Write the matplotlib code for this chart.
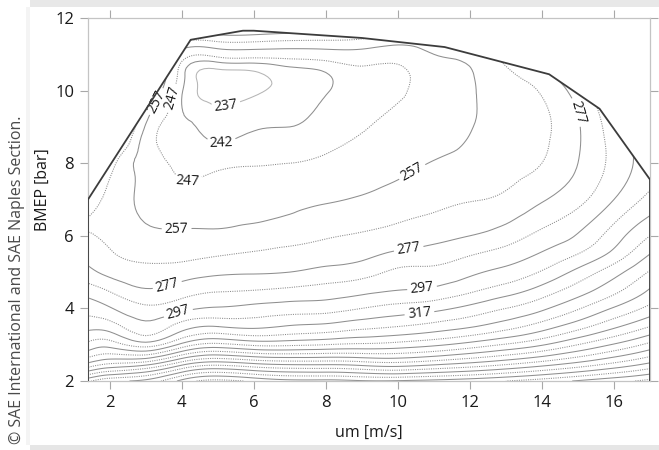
import numpy as np
import matplotlib
matplotlib.use("Agg")
import matplotlib.pyplot as plt
import matplotlib.tri as mtri
from matplotlib.patches import Polygon, Rectangle

plt.rcParams['font.family'] = ['Open Sans', 'DejaVu Sans']

# ---------------- data ----------------
speed = [1.4, 2, 3, 4, 5, 6, 7, 8, 9, 10, 11, 12, 13, 14, 15, 16, 17]          # um [m/s]
bmep = [2, 2.5, 3, 3.5, 4, 4.5, 5, 5.5, 6, 7, 8, 9, 10, 10.5, 11, 11.5, 12]      # BMEP [bar]

bsfc_u1_4 = [405, 357, 330, 314, 303, 292, 280, 273, 267.5, 272, 295, 320, 340, 350, 360, 370, 380]
bsfc_u2 = [415, 365, 333, 312, 298, 286, 274, 268, 265, 264, 272, 300, 320, 330, 340, 350, 360]
bsfc_u3 = [420, 370, 322, 300, 289, 278, 270, 264, 259.5, 254, 252.5, 256, 275, 285, 295, 305, 315]
bsfc_u4 = [440, 390, 340, 312, 294, 282, 272, 264, 259, 249.5, 245, 243, 242.5, 244, 252, 275, 300]
bsfc_u5 = [450, 400, 350, 317, 298, 286, 275, 266, 259, 251, 245.5, 240, 235, 235.5, 250, 275, 300]
bsfc_u6 = [445, 395, 345, 315, 300, 287, 276, 268, 261, 252, 246.5, 241.5, 236, 236.5, 251, 275, 300]
bsfc_u7 = [440, 392, 345, 318, 302, 289, 277, 270, 263, 254, 247, 242, 239, 240, 251, 273, 298]
bsfc_u8 = [440, 392, 347, 320, 303, 291, 280, 272, 266, 256, 248.5, 244, 241.5, 242, 252, 272, 295]
bsfc_u9 = [438, 390, 349, 324, 307, 294, 283, 274, 268, 258, 251, 246.5, 245, 245.5, 253, 270, 290]
bsfc_u10 = [438, 388, 351, 327, 311, 297, 289, 279, 271, 261, 254, 249, 246, 245.5, 251, 265, 285]
bsfc_u11 = [440, 392, 355, 331, 314, 299, 290, 281, 274, 264, 257.5, 252, 251, 252, 257, 265, 280]
bsfc_u12 = [443, 397, 361, 336, 320, 305, 295, 286, 277, 266.5, 260, 256.5, 256, 256.5, 260, 270, 285]
bsfc_u13 = [447, 403, 368, 343, 327, 312, 300, 291, 282, 269, 263, 261, 262, 265, 272, 282, 294]
bsfc_u14 = [452, 410, 376, 352, 335, 321, 308, 298, 290, 276, 267, 265, 268, 275, 287, 298, 310]
bsfc_u15 = [458, 418, 387, 363, 346, 332, 320, 307, 298, 284, 277, 276, 282, 290, 300, 310, 320]
bsfc_u16 = [464, 427, 398, 375, 358, 344, 333, 320, 312, 297, 290, 292, 300, 308, 315, 322, 330]
bsfc_u17 = [470, 437, 410, 387, 370, 358, 348, 337, 327, 310, 303, 305, 315, 322, 330, 337, 345]

# full-load / operating boundary
boundary_speed = [1.4, 1.4, 4.25, 5.7, 6.0, 9.0, 11.3, 14.2, 15.6, 17.0, 17.0]
boundary_bmep = [2.0, 7.0, 11.4, 11.65, 11.65, 11.45, 11.2, 10.45, 9.5, 7.55, 2.0]

contour_levels = [237, 242, 247] + list(range(257, 500, 10))
label_levels = [237, 242, 247, 257, 277, 297, 317]

x_ticks = [2, 4, 6, 8, 10, 12, 14, 16]
y_ticks = [2, 4, 6, 8, 10, 12]

# ---------------- figure ----------------
W, H = 659, 450
fig = plt.figure(figsize=(W / 100, H / 100), dpi=100)
fig.patch.set_facecolor('white')

# page-like panel shadows
fig.add_artist(Rectangle((30 / W, 1 - 7 / H), 1, 7 / H, transform=fig.transFigure,
                         facecolor='#e8e8e8', edgecolor='none', zorder=0))
fig.add_artist(Rectangle((30 / W, 0), 1, 5 / H, transform=fig.transFigure,
                         facecolor='#e6e6e6', edgecolor='none', zorder=0))
fig.add_artist(Rectangle((26 / W, 5 / H), 4 / W, 1 - 12 / H, transform=fig.transFigure,
                         facecolor='#f4f4f4', edgecolor='none', zorder=0))

ax = fig.add_axes([88 / W, 1 - 381 / H, (650 - 88) / W, (381 - 18) / H])

bsfc = np.column_stack([bsfc_u1_4, bsfc_u2, bsfc_u3, bsfc_u4, bsfc_u5, bsfc_u6, bsfc_u7,
                        bsfc_u8, bsfc_u9, bsfc_u10, bsfc_u11, bsfc_u12, bsfc_u13, bsfc_u14,
                        bsfc_u15, bsfc_u16, bsfc_u17])
U, B = np.meshgrid(speed, bmep)
tri = mtri.Triangulation(U.ravel(), B.ravel())
refiner = mtri.UniformTriRefiner(tri)
tri_f, z_f = refiner.refine_field(bsfc.ravel(), subdiv=3)


def style_of(lv):
    if lv == 247 or (lv >= 257 and ((lv - 257) // 10) % 2 == 1):
        return (0, (1.0, 1.2)), '#8a8a8a'
    return 'solid', ('#b5b5b5' if lv == 237 else '#8f8f8f')


clip = Polygon(np.column_stack([boundary_speed, boundary_bmep]), closed=True,
               transform=ax.transData, facecolor='none', edgecolor='none')
ax.add_patch(clip)

plain_levels = [lv for lv in contour_levels if lv not in label_levels]
for lvls in (plain_levels, label_levels):
    st = [style_of(lv) for lv in lvls]
    cset = ax.tricontour(tri_f, z_f, levels=lvls, colors=[c for _, c in st],
                         linestyles=[s for s, _ in st], linewidths=0.75)
    cset.set_clip_path(clip)
    if lvls is label_levels:
        cs_lab = cset

label_spots = [(5.2, 9.69), (5.1, 8.56), (4.17, 7.48), (3.72, 9.8), (3.39, 9.66),
               (3.86, 6.19), (10.4, 7.76), (3.6, 4.64), (10.3, 5.66), (14.9, 9.38),
               (3.9, 3.9), (10.67, 4.59), (10.6, 3.87)]
ax.clabel(cs_lab, manual=label_spots, inline=True, inline_spacing=3,
          fontsize=10, colors='#1a1a1a', fmt='%d')

ax.plot(boundary_speed, boundary_bmep, color='#3c3c3c', lw=1.3, zorder=5)

ax.set_xlim(1.4, 17.0)
ax.set_ylim(2, 12)
ax.set_xticks(x_ticks)
ax.set_yticks(y_ticks)
ax.tick_params(direction='out', length=6, width=0.8, color='#a8a8a8', top=True, right=True,
               labelsize=12, labelcolor='#1a1a1a', pad=4)
for s in ax.spines.values():
    s.set_color('#c4c4c4')
    s.set_linewidth(0.9)

ax.set_xlabel('um [m/s]', fontsize=11.5, color='#1a1a1a', labelpad=10)
ax.set_ylabel('BMEP [bar]', fontsize=11.5, color='#1a1a1a')
ax.yaxis.set_label_coords(-0.066, 0.526)

fig.text(17 / W, 1 - 444 / H, '© SAE International and SAE Naples Section.', rotation=90,
         ha='center', va='bottom', fontsize=11.5, color='#4a4a4a')

fig.savefig('out.png', dpi=100)
